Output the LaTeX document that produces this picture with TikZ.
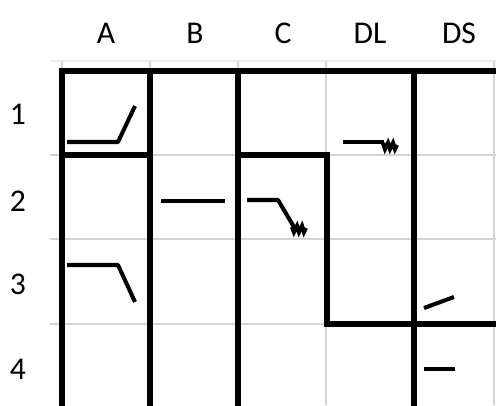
\documentclass[tikz,border=0pt]{standalone}
\usepackage{fontspec}
\setmainfont{Carlito}
\tikzset{
  thickwall/.style = {line width=3.9pt, line cap=rect},
  gridline/.style  = {line width=0.8pt, black!17},
  sigline/.style   = {line width=2.3pt, line join=round},
  squiggle/.style  = {line width=2.4pt, line join=miter},
  headlabel/.style = {font=\fontsize{18}{20}\selectfont, inner sep=0pt},
}

\begin{document}
\begin{tikzpicture}[x=0.02cm, y=-0.02cm]
  \useasboundingbox (0,0) rectangle (496,405);

  % ---- light grid ---------------------------------------------------------
  \draw[gridline, black!8] (50,61) -- (496,61);
  \foreach \y in {155,239,324} { \draw[gridline] (50,\y) -- (496,\y); }
  \foreach \x in {62,150,238,326,494} { \draw[gridline] (\x,61) -- (\x,405); }

  % ---- column and row labels ----------------------------------------------
  \node[headlabel] (colA)  at (106,33) {A};
  \node[headlabel] (colB)  at (195,33) {B};
  \node[headlabel] (colC)  at (283,33) {C};
  \node[headlabel] (colDL) at (370,33) {DL};
  \node[headlabel] (colDS) at (459,33) {DS};
  \node[headlabel] (row1) at (18,114) {1};
  \node[headlabel] (row2) at (18,201) {2};
  \node[headlabel] (row3) at (18,284) {3};
  \node[headlabel] (row4) at (18,369) {4};

  % ---- thick walls ----------------------------------------------------------
  \draw[thickwall] (62,405) -- (62,71) -- (496,71);
  \foreach \x in {150,238,414} { \draw[thickwall] (\x,71) -- (\x,405); }
  \draw[thickwall] (62,155) -- (150,155);
  \draw[thickwall] (238,155) -- (327,155) -- (327,324) -- (496,324);

  % ---- signal marks ---------------------------------------------------------
  % A1: flat then rising
  \draw[sigline] (67,142) -- (118,142) -- (135,106);
  % A3: flat then falling
  \draw[sigline] (67,265) -- (118,265) -- (135,302);
  % B2: flat
  \draw[sigline] (161,201) -- (225,201);
  % C2: flat, falling, ending in a squiggle
  \draw[sigline] (247,200) -- (278,200) -- (294,227);
  \draw[squiggle] (292,227) -- (294,232) -- (297,226) -- (299,232)
                  -- (302,226) -- (304,232) -- (306,228);
  % DL1: flat, ending in a squiggle
  \draw[sigline] (343,142) -- (384,142);
  \draw[squiggle] (383,143) -- (385,149) -- (388,143) -- (390,149)
                  -- (393,143) -- (395,149) -- (397,145);
  % DS3: short rise
  \draw[sigline] (424,308) -- (454,297);
  % DS4: short flat
  \draw[sigline] (424,369) -- (455,369);
\end{tikzpicture}
\end{document}
